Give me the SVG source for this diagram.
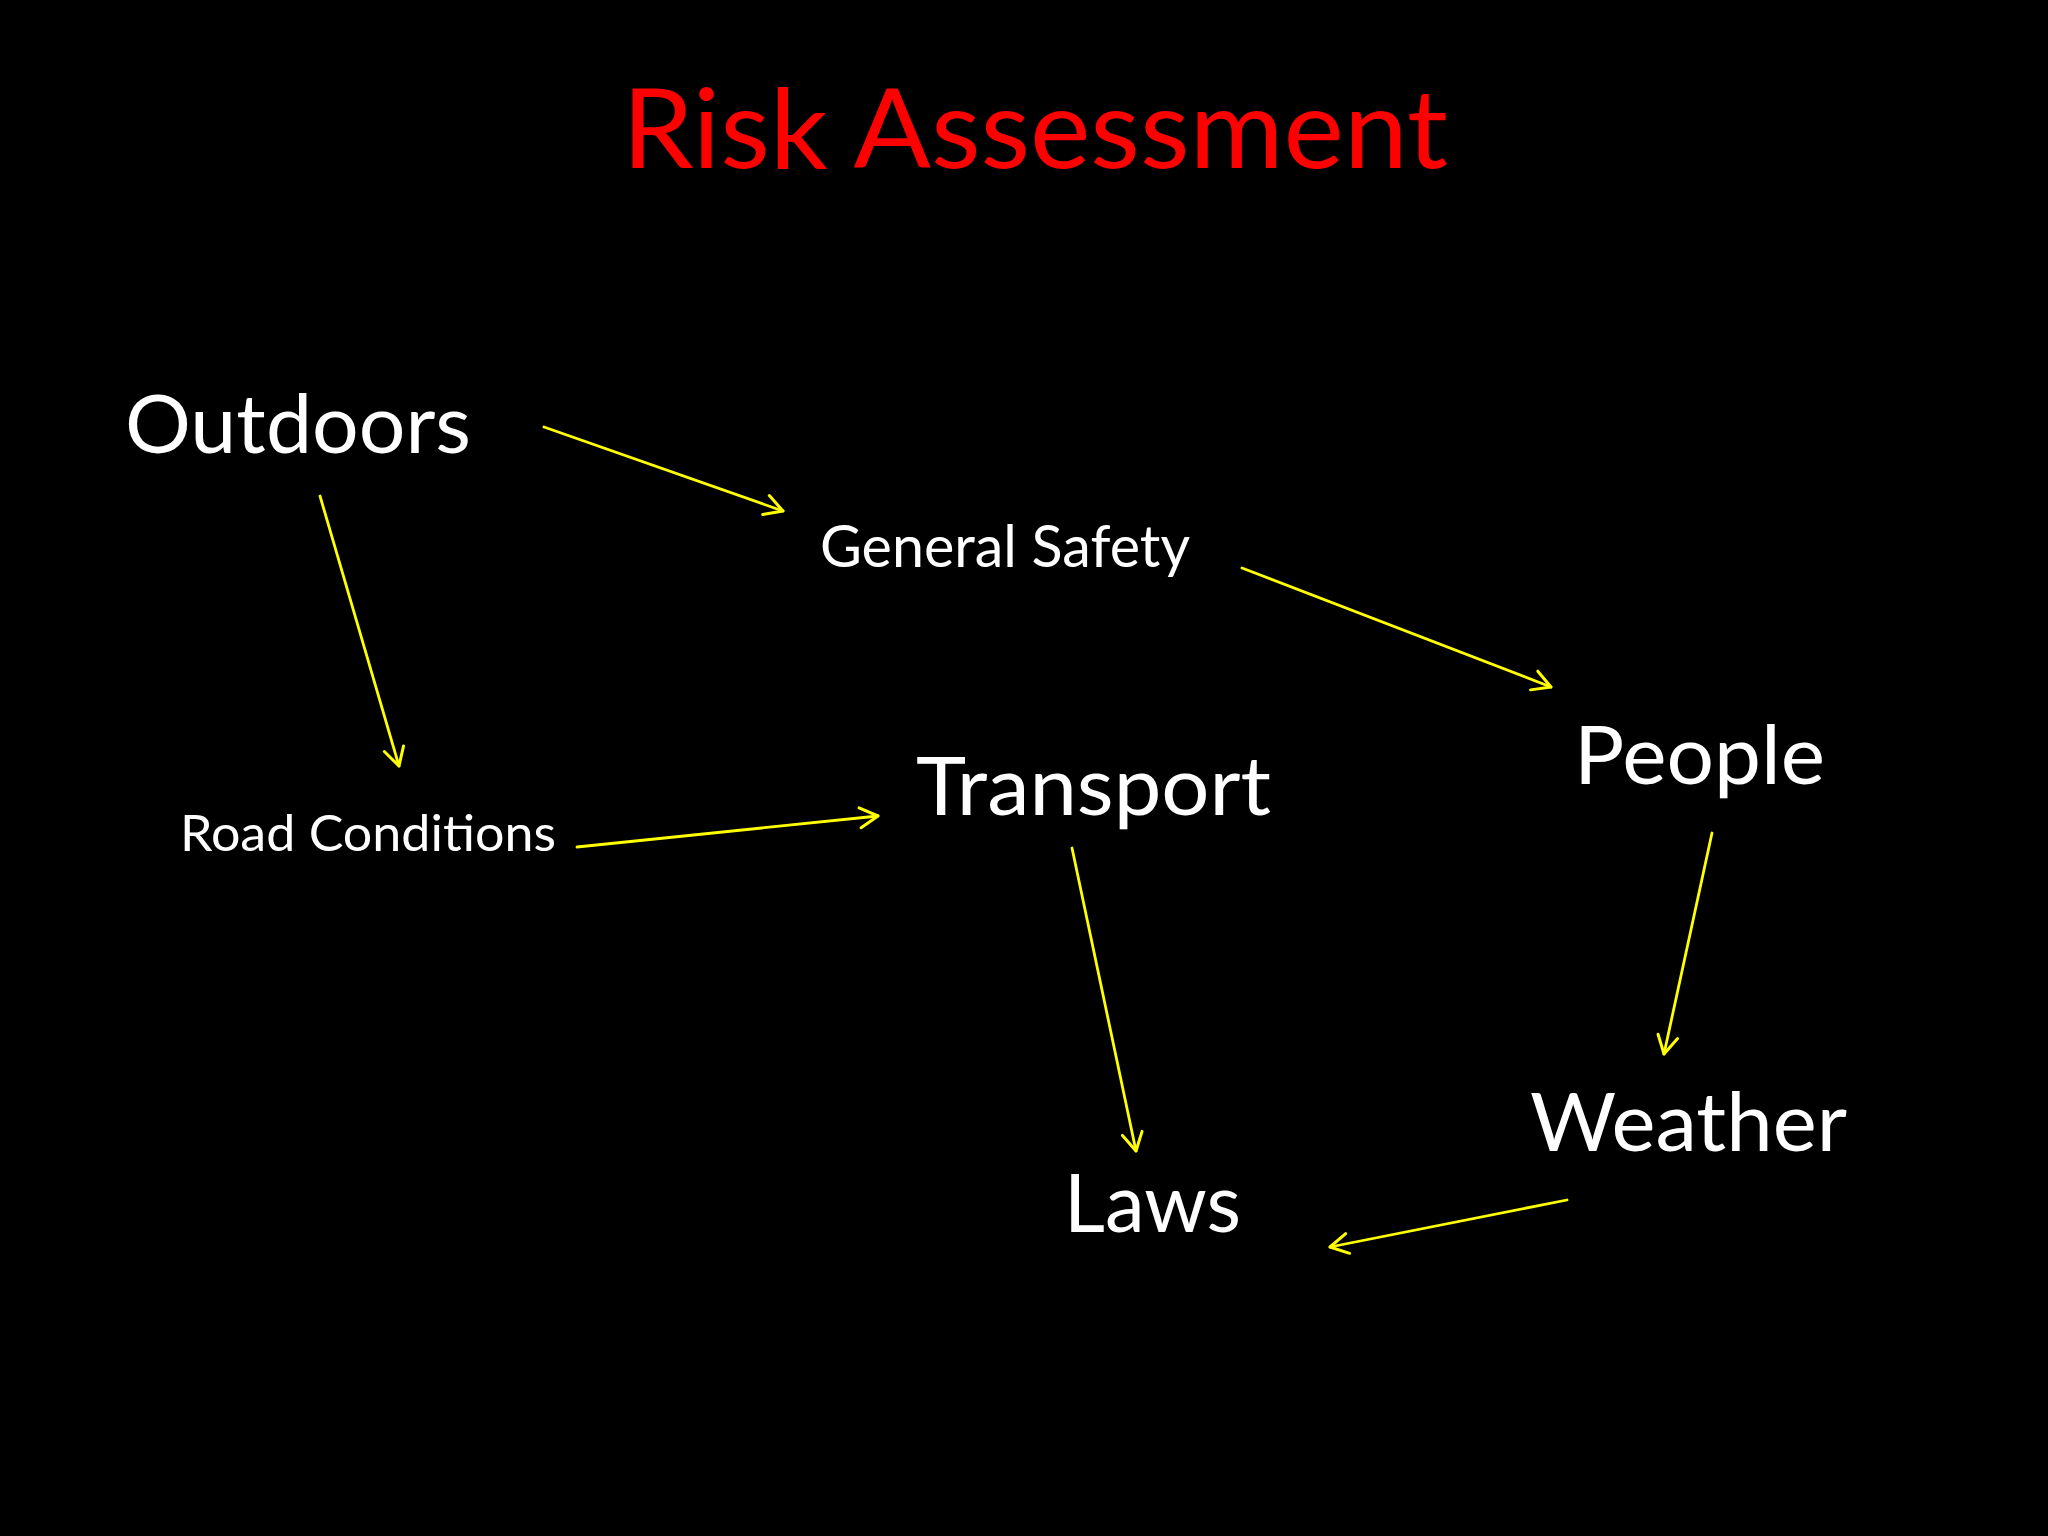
<svg xmlns="http://www.w3.org/2000/svg" width="2048" height="1536" viewBox="0 0 2048 1536">
  <defs>
    <marker id="arrow" markerUnits="userSpaceOnUse" viewBox="-22 -14 26 28" refX="0" refY="0" markerWidth="26" markerHeight="28" orient="auto">
      <path d="M-18,-10 L0,0 L-18,10" fill="none" stroke="#FFFF00" stroke-width="3" stroke-linecap="round" stroke-linejoin="round"/>
    </marker>
    <style>
      .title { font-family: Lato, "Open Sans", "Liberation Sans", sans-serif; fill: #FF0000; font-size: 110px; }
      .big { font-family: Lato, "Open Sans", "Liberation Sans", sans-serif; fill: #FFFFFF; font-size: 82px; }
      .mid { font-family: Lato, "Open Sans", "Liberation Sans", sans-serif; fill: #FFFFFF; font-size: 59px; }
      .small { font-family: Lato, "Open Sans", "Liberation Sans", sans-serif; fill: #FFFFFF; font-size: 51px; }
      .conn { stroke: #FFFF00; stroke-width: 2.8; fill: none; stroke-linecap: round; marker-end: url(#arrow); }
    </style>
  </defs>
  <rect x="0" y="0" width="2048" height="1536" fill="#000000"/>
  <g id="title">
    <text class="title" x="622" y="168" textLength="826" lengthAdjust="spacingAndGlyphs">Risk Assessment</text>
  </g>
  <g id="outdoors">
    <text class="big" x="125" y="453" textLength="346" lengthAdjust="spacingAndGlyphs">Outdoors</text>
  </g>
  <g id="general-safety">
    <text class="mid" x="820" y="567" textLength="370" lengthAdjust="spacingAndGlyphs">General Safety</text>
  </g>
  <g id="road-conditions">
    <text class="small" x="180" y="851" textLength="376" lengthAdjust="spacingAndGlyphs">Road Conditions</text>
  </g>
  <g id="transport">
    <text class="big" x="916" y="815" textLength="355" lengthAdjust="spacingAndGlyphs">Transport</text>
  </g>
  <g id="people">
    <text class="big" x="1574" y="784" textLength="251" lengthAdjust="spacingAndGlyphs">People</text>
  </g>
  <g id="weather">
    <text class="big" x="1530" y="1151" textLength="317" lengthAdjust="spacingAndGlyphs">Weather</text>
  </g>
  <g id="laws">
    <text class="big" x="1064" y="1232" textLength="177" lengthAdjust="spacingAndGlyphs">Laws</text>
  </g>
  <g id="connectors">
    <line class="conn" x1="544" y1="427" x2="783" y2="511"/>
    <line class="conn" x1="320" y1="496" x2="399" y2="766"/>
    <line class="conn" x1="1242" y1="568" x2="1551" y2="687"/>
    <line class="conn" x1="577" y1="847" x2="878" y2="816"/>
    <line class="conn" x1="1072" y1="848" x2="1136" y2="1151"/>
    <line class="conn" x1="1712" y1="833" x2="1664" y2="1054"/>
    <line class="conn" x1="1567" y1="1200" x2="1330" y2="1247"/>
  </g>
</svg>
